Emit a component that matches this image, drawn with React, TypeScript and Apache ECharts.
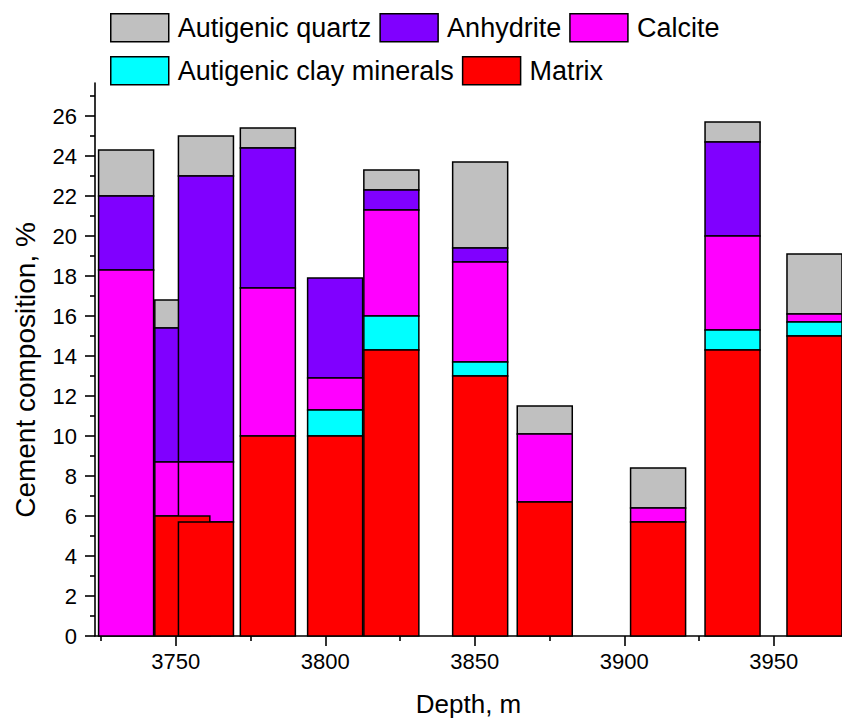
import React, { useEffect, useRef } from "react";
import * as echarts from "echarts";

// Sampling depths (m) and cement components (%) per sample
const depths = [3733.4, 3752.2, 3760.1, 3780.8, 3803.3, 3822.1, 3851.8, 3873.4, 3911.3, 3936.2, 3963.6];
const matrix = [0, 6.0, 5.7, 10.0, 10.0, 14.3, 13.0, 6.7, 5.7, 14.3, 15.0];
const clayMinerals = [0, 0, 0, 0, 1.3, 1.7, 0.7, 0, 0, 1.0, 0.7];
const calcite = [18.3, 2.7, 3.0, 7.4, 1.6, 5.3, 5.0, 3.4, 0.7, 4.7, 0.4];
const anhydrite = [3.7, 6.7, 14.3, 7.0, 5.0, 1.0, 0.7, 0, 0, 4.7, 0];
const quartz = [2.3, 1.4, 2.0, 1.0, 0, 1.0, 4.3, 1.4, 2.0, 1.0, 3.0];

// Axis ticks
const depthMajorTicks = [3750, 3800, 3850, 3900, 3950];
const depthMinorTicks = [3725, 3775, 3825, 3875, 3925];
const percentMajorTicks = [0, 2, 4, 6, 8, 10, 12, 14, 16, 18, 20, 22, 24, 26];
const percentMinorTicks = [1, 3, 5, 7, 9, 11, 13, 15, 17, 19, 21, 23, 25, 27];

const FONT = "'Liberation Sans', Arial, sans-serif";
const BAR_WIDTH_M = 18.4;
const X_MIN = 3723;
const X_MAX = 3972.8;
const Y_MIN = 0;
const Y_MAX = 27.65;

// Stack order from the bottom up
const layers = [
  { name: "Matrix", values: matrix, color: "#FF0000" },
  { name: "Autigenic clay minerals", values: clayMinerals, color: "#00FFFF" },
  { name: "Calcite", values: calcite, color: "#FF00FF" },
  { name: "Anhydrite", values: anhydrite, color: "#8000FF" },
  { name: "Autigenic quartz", values: quartz, color: "#C0C0C0" },
];

function buildSeries() {
  const base = depths.map(() => 0);
  const stacked = layers.map((layer) => {
    const data = depths.map((d, i) => {
      const lo = base[i];
      const hi = lo + layer.values[i];
      base[i] = hi;
      return [d, lo, hi];
    });
    return { layer, data };
  });
  // Top layers first so the lower components are painted over them
  return stacked
    .slice()
    .reverse()
    .map(({ layer, data }, order) => ({
      type: "custom",
      name: layer.name,
      itemStyle: { color: layer.color, borderColor: "#000", borderWidth: 1.5 },
      encode: { x: 0, y: [1, 2] },
      data,
      renderItem: (params: any, api: any) => {
        const d = api.value(0);
        const lo = api.value(1);
        const hi = api.value(2);
        if (hi - lo <= 0) return null;
        const p0 = api.coord([d - BAR_WIDTH_M / 2, hi]);
        const p1 = api.coord([d + BAR_WIDTH_M / 2, lo]);
        return {
          type: "rect",
          z2: order * 50 + params.dataIndex,
          shape: { x: p0[0], y: p0[1], width: p1[0] - p0[0], height: p1[1] - p0[1] },
          style: { fill: layer.color, stroke: "#000", lineWidth: 1.5 },
        };
      },
    }));
}

const axisLineStyle = { color: "#000", width: 1.6 };

export default function App() {
  const ref = useRef<HTMLDivElement>(null);

  useEffect(() => {
    const chart = echarts.init(ref.current!, null, { renderer: "svg" });
    const legendCommon = {
      left: 110,
      padding: 0,
      itemWidth: 58,
      itemHeight: 28,
      itemGap: 8,
      icon: "rect",
      itemStyle: { borderColor: "#000", borderWidth: 1.5 },
      textStyle: { fontSize: 27, color: "#000", fontFamily: FONT, padding: [0, 0, 0, 4] },
    };
    const option: any = {
      animation: false,
      backgroundColor: "#fff",
      legend: [
        { ...legendCommon, top: 13, data: ["Autigenic quartz", "Anhydrite", "Calcite"] },
        { ...legendCommon, top: 56, data: ["Autigenic clay minerals", "Matrix"] },
      ],
      grid: { left: 95, right: 0, top: 83, bottom: 84, outerBoundsMode: "none" },
      xAxis: [
        {
          type: "value",
          min: X_MIN,
          max: X_MAX,
          position: "bottom",
          name: "Depth, m",
          nameLocation: "middle",
          nameGap: 55,
          nameTextStyle: { fontSize: 26, color: "#000", fontFamily: FONT },
          axisLine: { show: true, onZero: false, lineStyle: axisLineStyle },
          axisTick: { show: true, length: 10, lineStyle: axisLineStyle, customValues: depthMajorTicks },
          axisLabel: {
            customValues: depthMajorTicks,
            fontSize: 22,
            color: "#000",
            fontFamily: FONT,
            margin: 14,
            formatter: (v: number) => String(v),
          },
          splitLine: { show: false },
        },
        {
          type: "value",
          min: X_MIN,
          max: X_MAX,
          position: "bottom",
          axisLine: { show: false },
          axisTick: { show: true, length: 5, lineStyle: axisLineStyle, customValues: depthMinorTicks },
          axisLabel: { show: false },
          splitLine: { show: false },
        },
      ],
      yAxis: [
        {
          type: "value",
          min: Y_MIN,
          max: Y_MAX,
          position: "left",
          name: "Cement composition, %",
          nameLocation: "middle",
          nameGap: 56,
          nameRotate: 90,
          nameTextStyle: { fontSize: 28, color: "#000", fontFamily: FONT, padding: [0, 21, 0, 0] },
          axisLine: { show: true, onZero: false, lineStyle: axisLineStyle },
          axisTick: { show: true, length: 10, lineStyle: axisLineStyle, customValues: percentMajorTicks },
          axisLabel: {
            customValues: percentMajorTicks,
            fontSize: 22,
            color: "#000",
            fontFamily: FONT,
            margin: 18,
            formatter: (v: number) => String(v),
          },
          splitLine: { show: false },
        },
        {
          type: "value",
          min: Y_MIN,
          max: Y_MAX,
          position: "left",
          axisLine: { show: false },
          axisTick: { show: true, length: 5, lineStyle: axisLineStyle, customValues: percentMinorTicks },
          axisLabel: { show: false },
          splitLine: { show: false },
        },
      ],
      series: buildSeries(),
    };
    chart.setOption(option);
    return () => chart.dispose();
  }, []);

  return (
    <div
      ref={ref}
      style={{ position: "fixed", left: 0, top: 0, width: 842, height: 720 }}
    />
  );
}
